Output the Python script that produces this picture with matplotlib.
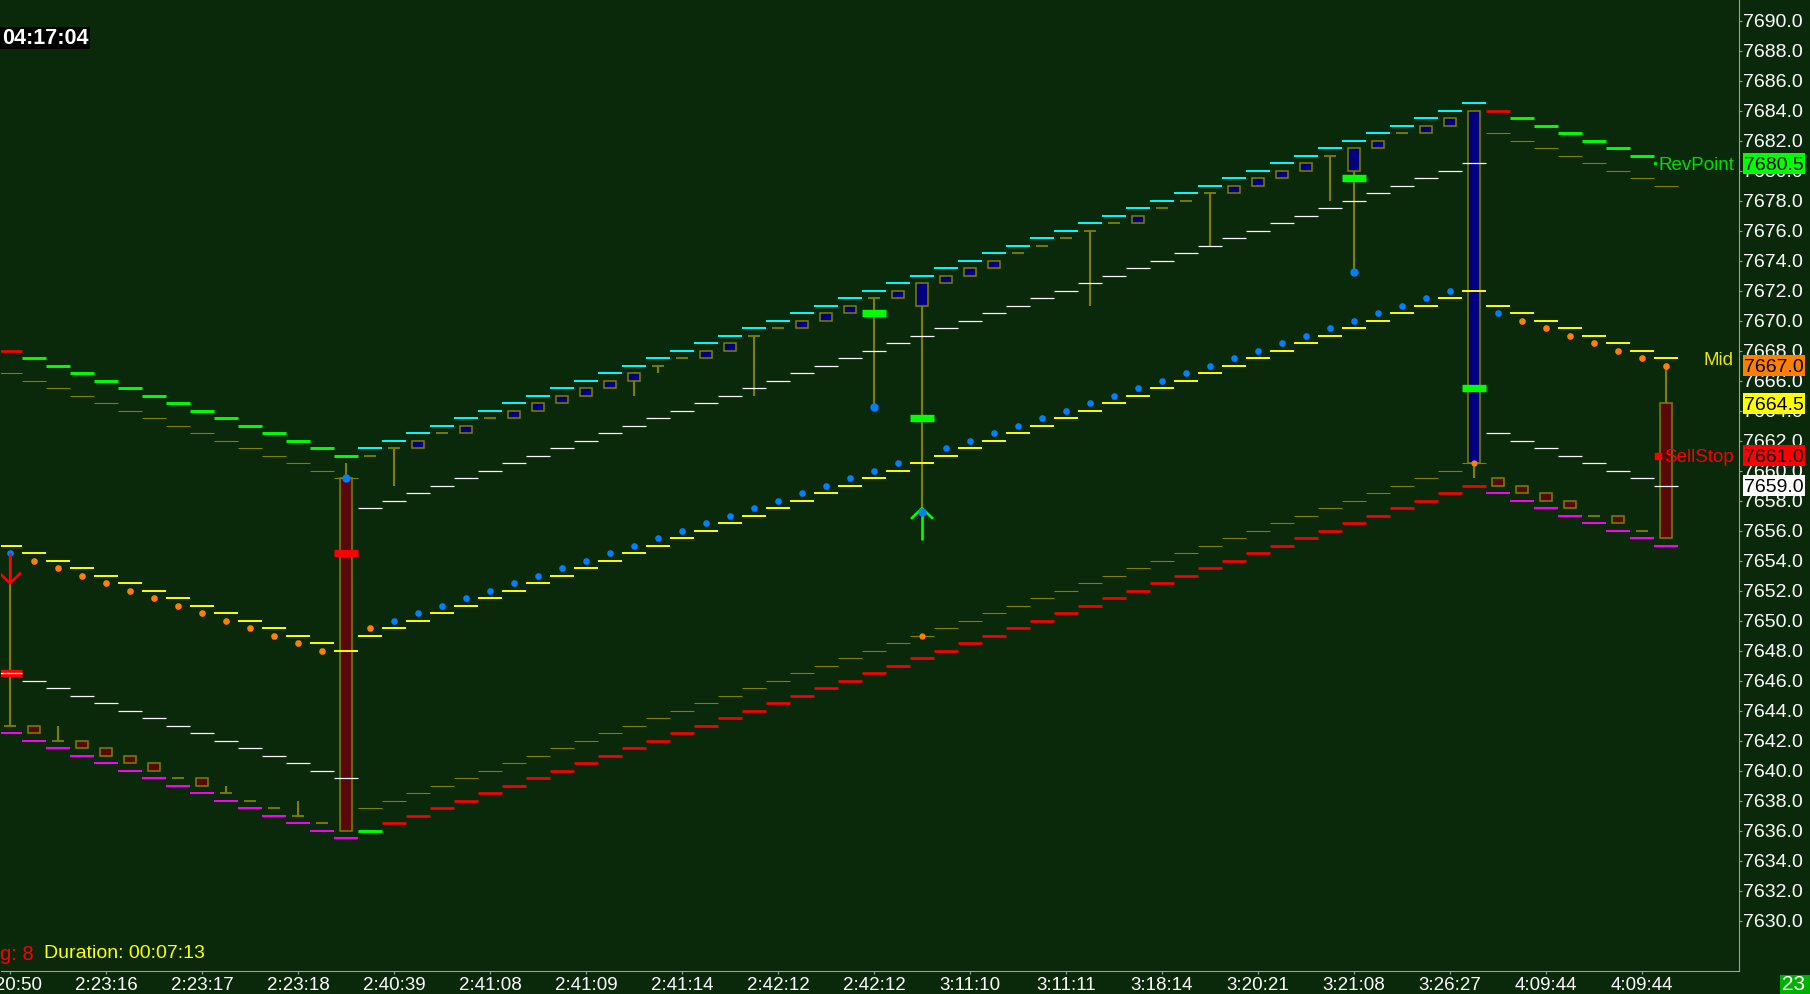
import numpy as np
import matplotlib
matplotlib.use('Agg')
import matplotlib.pyplot as plt
import matplotlib.transforms as mtransforms
from matplotlib.patches import Rectangle
from matplotlib.ticker import FormatStrFormatter

plt.rcParams['font.family'] = ['Liberation Sans', 'DejaVu Sans']

nan = np.nan

# channel bands, one value per renko column (0..69)
upper = [7668.0, 7667.5, 7667.0, 7666.5, 7666.0, 7665.5, 7665.0, 7664.5, 7664.0, 7663.5,
         7663.0, 7662.5, 7662.0, 7661.5, 7661.0, 7661.5, 7662.0, 7662.5, 7663.0, 7663.5,
         7664.0, 7664.5, 7665.0, 7665.5, 7666.0, 7666.5, 7667.0, 7667.5, 7668.0, 7668.5,
         7669.0, 7669.5, 7670.0, 7670.5, 7671.0, 7671.5, 7672.0, 7672.5, 7673.0, 7673.5,
         7674.0, 7674.5, 7675.0, 7675.5, 7676.0, 7676.5, 7677.0, 7677.5, 7678.0, 7678.5,
         7679.0, 7679.5, 7680.0, 7680.5, 7681.0, 7681.5, 7682.0, 7682.5, 7683.0, 7683.5,
         7684.0, 7684.5, 7684.0, 7683.5, 7683.0, 7682.5, 7682.0, 7681.5, 7681.0, nan]
upper_color = "R" + "G" * 14 + "C" * 47 + "R" + "G" * 6 + "."

lower = [7642.5, 7642.0, 7641.5, 7641.0, 7640.5, 7640.0, 7639.5, 7639.0, 7638.5, 7638.0,
         7637.5, 7637.0, 7636.5, 7636.0, 7635.5, 7636.0, 7636.5, 7637.0, 7637.5, 7638.0,
         7638.5, 7639.0, 7639.5, 7640.0, 7640.5, 7641.0, 7641.5, 7642.0, 7642.5, 7643.0,
         7643.5, 7644.0, 7644.5, 7645.0, 7645.5, 7646.0, 7646.5, 7647.0, 7647.5, 7648.0,
         7648.5, 7649.0, 7649.5, 7650.0, 7650.5, 7651.0, 7651.5, 7652.0, 7652.5, 7653.0,
         7653.5, 7654.0, 7654.5, 7655.0, 7655.5, 7656.0, 7656.5, 7657.0, 7657.5, 7658.0,
         7658.5, 7659.0, 7658.5, 7658.0, 7657.5, 7657.0, 7656.5, 7656.0, 7655.5, 7655.0]
lower_color = "M" * 15 + "G" + "R" * 46 + "M" * 8

olive_line = [7666.5, 7666.0, 7665.5, 7665.0, 7664.5, 7664.0, 7663.5, 7663.0, 7662.5, 7662.0,
              7661.5, 7661.0, 7660.5, 7660.0, 7659.5, 7637.5, 7638.0, 7638.5, 7639.0, 7639.5,
              7640.0, 7640.5, 7641.0, 7641.5, 7642.0, 7642.5, 7643.0, 7643.5, 7644.0, 7644.5,
              7645.0, 7645.5, 7646.0, 7646.5, 7647.0, 7647.5, 7648.0, 7648.5, 7649.0, 7649.5,
              7650.0, 7650.5, 7651.0, 7651.5, 7652.0, 7652.5, 7653.0, 7653.5, 7654.0, 7654.5,
              7655.0, 7655.5, 7656.0, 7656.5, 7657.0, 7657.5, 7658.0, 7658.5, 7659.0, 7659.5,
              7660.0, 7660.5, 7682.5, 7682.0, 7681.5, 7681.0, 7680.5, 7680.0, 7679.5, 7679.0]

white_line = [7646.5, 7646.0, 7645.5, 7645.0, 7644.5, 7644.0, 7643.5, 7643.0, 7642.5, 7642.0,
              7641.5, 7641.0, 7640.5, 7640.0, 7639.5, 7657.5, 7658.0, 7658.5, 7659.0, 7659.5,
              7660.0, 7660.5, 7661.0, 7661.5, 7662.0, 7662.5, 7663.0, 7663.5, 7664.0, 7664.5,
              7665.0, 7665.5, 7666.0, 7666.5, 7667.0, 7667.5, 7668.0, 7668.5, 7669.0, 7669.5,
              7670.0, 7670.5, 7671.0, 7671.5, 7672.0, 7672.5, 7673.0, 7673.5, 7674.0, 7674.5,
              7675.0, 7675.5, 7676.0, 7676.5, 7677.0, 7677.5, 7678.0, 7678.5, 7679.0, 7679.5,
              7680.0, 7680.5, 7662.5, 7662.0, 7661.5, 7661.0, 7660.5, 7660.0, 7659.5, 7659.0]

mid_line = [7655.0, 7654.5, 7654.0, 7653.5, 7653.0, 7652.5, 7652.0, 7651.5, 7651.0, 7650.5,
            7650.0, 7649.5, 7649.0, 7648.5, 7648.0, 7649.0, 7649.5, 7650.0, 7650.5, 7651.0,
            7651.5, 7652.0, 7652.5, 7653.0, 7653.5, 7654.0, 7654.5, 7655.0, 7655.5, 7656.0,
            7656.5, 7657.0, 7657.5, 7658.0, 7658.5, 7659.0, 7659.5, 7660.0, 7660.5, 7661.0,
            7661.5, 7662.0, 7662.5, 7663.0, 7663.5, 7664.0, 7664.5, 7665.0, 7665.5, 7666.0,
            7666.5, 7667.0, 7667.5, 7668.0, 7668.5, 7669.0, 7669.5, 7670.0, 7670.5, 7671.0,
            7671.5, 7672.0, 7671.0, 7670.5, 7670.0, 7669.5, 7669.0, 7668.5, 7668.0, 7667.5]

mid_dots = [7654.5, 7654.0, 7653.5, 7653.0, 7652.5, 7652.0, 7651.5, 7651.0, 7650.5, 7650.0,
            7649.5, 7649.0, 7648.5, 7648.0, nan, 7649.5, 7650.0, 7650.5, 7651.0, 7651.5,
            7652.0, 7652.5, 7653.0, 7653.5, 7654.0, 7654.5, 7655.0, 7655.5, 7656.0, 7656.5,
            7657.0, 7657.5, 7658.0, 7658.5, 7659.0, 7659.5, 7660.0, 7660.5, nan, 7661.5,
            7662.0, 7662.5, 7663.0, 7663.5, 7664.0, 7664.5, 7665.0, 7665.5, 7666.0, 7666.5,
            7667.0, 7667.5, 7668.0, 7668.5, 7669.0, 7669.5, 7670.0, 7670.5, 7671.0, 7671.5,
            7672.0, nan, 7670.5, 7670.0, 7669.5, 7669.0, 7668.5, 7668.0, 7667.5, 7667.0]
dot_color = "B" + "O" * 13 + "." + "O" + "B" * 45 + "." + "B" + "O" * 7

# renko bars
c_open = [7643.0, 7643.0, 7642.0, 7642.0, 7641.5, 7641.0, 7640.5, 7639.5, 7639.5, 7638.5,
          7638.0, 7637.5, 7637.0, 7636.5, 7659.5, 7661.0, 7661.5, 7661.5, 7662.5, 7662.5,
          7663.5, 7663.5, 7664.0, 7664.5, 7665.0, 7665.5, 7666.0, 7667.0, 7667.5, 7667.5,
          7668.0, 7669.0, 7669.5, 7669.5, 7670.0, 7670.5, 7671.5, 7671.5, 7671.0, 7672.5,
          7673.0, 7673.5, 7674.5, 7675.0, 7675.5, 7676.0, 7676.5, 7676.5, 7677.5, 7678.0,
          7678.5, 7678.5, 7679.0, 7679.5, 7680.0, 7681.0, 7680.0, 7681.5, 7682.5, 7682.5,
          7683.0, 7660.5, 7659.5, 7659.0, 7658.5, 7658.0, 7657.0, 7657.0, 7656.0, 7664.5]
c_close = [7643.0, 7642.5, 7642.0, 7641.5, 7641.0, 7640.5, 7640.0, 7639.5, 7639.0, 7638.5,
           7638.0, 7637.5, 7637.0, 7636.5, 7636.0, 7661.0, 7661.5, 7662.0, 7662.5, 7663.0,
           7663.5, 7664.0, 7664.5, 7665.0, 7665.5, 7666.0, 7666.5, 7667.0, 7667.5, 7668.0,
           7668.5, 7669.0, 7669.5, 7670.0, 7670.5, 7671.0, 7671.5, 7672.0, 7672.5, 7673.0,
           7673.5, 7674.0, 7674.5, 7675.0, 7675.5, 7676.0, 7676.5, 7677.0, 7677.5, 7678.0,
           7678.5, 7679.0, 7679.5, 7680.0, 7680.5, 7681.0, 7681.5, 7682.0, 7682.5, 7683.0,
           7683.5, 7684.0, 7659.0, 7658.5, 7658.0, 7657.5, 7657.0, 7656.5, 7656.0, 7655.5]
c_high = [7654.5, 7643.0, 7643.0, 7642.0, 7641.5, 7641.0, 7640.5, 7639.5, 7639.5, 7639.0,
          7638.0, 7637.5, 7638.0, 7636.5, 7660.5, 7661.0, 7661.5, 7662.0, 7662.5, 7663.0,
          7663.5, 7664.0, 7664.5, 7665.0, 7665.5, 7666.0, 7666.5, 7667.0, 7667.5, 7668.0,
          7668.5, 7669.0, 7669.5, 7670.0, 7670.5, 7671.0, 7671.5, 7672.0, 7672.5, 7673.0,
          7673.5, 7674.0, 7674.5, 7675.0, 7675.5, 7676.0, 7676.5, 7677.0, 7677.5, 7678.0,
          7678.5, 7679.0, 7679.5, 7680.0, 7680.5, 7681.0, 7681.5, 7682.0, 7682.5, 7683.0,
          7683.5, 7684.0, 7659.5, 7659.0, 7658.5, 7658.0, 7657.0, 7657.0, 7656.0, 7667.0]
c_low = [7643.0, 7642.5, 7642.0, 7641.5, 7641.0, 7640.5, 7640.0, 7639.5, 7639.0, 7638.5,
         7638.0, 7637.5, 7637.0, 7636.5, 7636.0, 7661.0, 7659.0, 7661.5, 7662.5, 7662.5,
         7663.5, 7663.5, 7664.0, 7664.5, 7665.0, 7665.5, 7665.0, 7666.5, 7667.5, 7667.5,
         7668.0, 7665.0, 7669.5, 7669.5, 7670.0, 7670.5, 7664.25, 7671.5, 7657.25, 7672.5,
         7673.0, 7673.5, 7674.5, 7675.0, 7675.5, 7671.0, 7676.5, 7676.5, 7677.5, 7678.0,
         7675.0, 7678.5, 7679.0, 7679.5, 7680.0, 7678.0, 7673.25, 7681.5, 7682.5, 7682.5,
         7683.0, 7659.5, 7659.0, 7658.5, 7658.0, 7657.5, 7657.0, 7656.5, 7656.0, 7655.5]

# trade marks
buy_cols = [36, 38, 56, 61]
buy_px = [7670.5, 7663.5, 7679.5, 7665.5]
sell_cols = [0, 14]
sell_px = [7646.5, 7654.5]
sig_cols = [14, 36, 38, 56]
sig_px = [7659.5, 7664.25, 7657.25, 7673.25]
osig_cols = [38, 61]
osig_px = [7649.0, 7660.5]
arrow_cols = [0, 38]
arrow_from = [7654.5, 7655.4]
arrow_to = [7652.5, 7657.5]
arrow_colors = ['#ff0000', '#00ff00']

tick_cols = list(range(0, 70, 4))
tick_labels = ['2:20:50', '2:23:16', '2:23:17', '2:23:18', '2:40:39', '2:41:08',
               '2:41:09', '2:41:14', '2:42:12', '2:42:12', '3:11:10', '3:11:11',
               '3:18:14', '3:20:21', '3:21:08', '3:26:27', '4:09:44', '4:09:44']

side_labels = ['RevPoint', 'Mid', 'SellStop']
side_px = [7680.5, 7667.5, 7661.0]
side_colors = ['#00e000', '#e8e800', '#ff0000']
box_px = [7680.5, 7667.0, 7664.5, 7661.0, 7659.0]
box_colors = ['#00ff00', '#ff8000', '#ffff00', '#ff0000', '#ffffff']

BG = '#0a280a'
OLIVE = '#808000'

upper = np.array(upper)
lower = np.array(lower)
cols = np.arange(len(upper))

fig = plt.figure(figsize=(18.1, 9.94), dpi=100, facecolor=BG)
ax = fig.add_axes([1 / 1810, 23 / 994, 1738 / 1810, 971 / 994], facecolor=BG)
ax.set_xlim(-0.375, 72.04)
ax.set_ylim(7626.65, 7691.38)

# bands
band_style = {'R': ('#ff0000', 1.9), 'G': ('#00ff00', 2.1),
              'C': ('#00ffff', 1.4), 'M': ('#ff00ff', 1.4)}
for vals, codes in [(upper, upper_color), (lower, lower_color)]:
    for code, (c, lw) in band_style.items():
        idx = np.array([i for i, ch in enumerate(codes) if ch == code], dtype=int)
        if len(idx):
            ax.hlines(vals[idx], idx - 0.5, idx + 0.5, colors=c, lw=lw,
                      capstyle='butt', zorder=6)

ax.hlines(olive_line, cols - 0.5, cols + 0.5, colors=OLIVE, lw=0.8, capstyle='butt', zorder=4)
ax.hlines(white_line, cols - 0.5, cols + 0.5, colors='white', lw=0.9, capstyle='butt', zorder=6)
ax.hlines(mid_line, cols - 0.5, cols + 0.5, colors='#ffff00', lw=1.4, capstyle='butt', zorder=6)

# candles
for i in cols:
    o, c, h, l = c_open[i], c_close[i], c_high[i], c_low[i]
    if h > l:
        ax.vlines(i, l, h, colors=OLIVE, lw=1.5, zorder=2)
    if o == c:
        ax.hlines(o, i - 0.25, i + 0.25, colors=OLIVE, lw=1.3, capstyle='butt', zorder=3)
    else:
        fc = '#000080' if c > o else '#580808'
        ax.add_patch(Rectangle((i - 0.24, min(o, c)), 0.48, abs(c - o),
                               facecolor=fc, edgecolor=OLIVE, lw=1.1, zorder=3))

# entry marks
bc = np.array(buy_cols)
ax.hlines(buy_px, bc - 0.5, bc + 0.5, colors='#00ff00', lw=5.3, capstyle='butt', zorder=5)
sc = np.array(sell_cols)
ax.hlines(sell_px, sc - 0.5, sc + 0.5, colors='#ff0000', lw=5.3, capstyle='butt', zorder=5)

# dots
for code, c in [('B', '#0080ff'), ('O', '#ff8000')]:
    idx = [i for i, ch in enumerate(dot_color) if ch == code]
    ax.plot(idx, [mid_dots[i] for i in idx], 'o', color=c, ms=4.8, mec='none', zorder=7)
ax.plot(sig_cols, sig_px, 'o', color='#0080ff', ms=6, mec='none', zorder=8)
ax.plot(osig_cols, osig_px, 'o', color='#ff8000', ms=4.5, mec='none', zorder=8)

# arrows
for x, a, b, c in zip(arrow_cols, arrow_from, arrow_to, arrow_colors):
    back = -0.65 if b > a else 0.65
    ax.plot([x, x], [a, b], color=c, lw=1.9, zorder=7, solid_capstyle='butt')
    ax.plot([x - 0.42, x, x + 0.42], [b + back, b, b + back], color=c, lw=1.9, zorder=7)

# axes styling
for s in ['left', 'top']:
    ax.spines[s].set_visible(False)
for s in ['right', 'bottom']:
    ax.spines[s].set_color('#a0a0a0')
    ax.spines[s].set_linewidth(0.8)
ax.yaxis.tick_right()
ax.set_yticks(np.arange(7630, 7691, 2))
ax.yaxis.set_major_formatter(FormatStrFormatter('%.1f'))
ax.set_xticks(tick_cols)
ax.set_xticklabels(tick_labels)
ax.tick_params(axis='y', colors='#a0a0a0', labelcolor='white', labelsize=14, length=2.2, pad=1)
ax.tick_params(axis='x', colors='#a0a0a0', labelcolor='white', labelsize=13.5, length=2.2, pad=2)

trans = mtransforms.blended_transform_factory(ax.transAxes, ax.transData)

# labels left of the price scale
ax.plot(68.54, side_px[0], 's', color=side_colors[0], ms=1.6, zorder=9)
ax.plot(68.65, side_px[2], 's', color=side_colors[2], ms=5, zorder=9)
for t, v, c in zip(side_labels, side_px, side_colors):
    ax.text(0.9971, v, t, transform=trans, ha='right', va='center_baseline',
            color=c, fontsize=13.5, zorder=9)

# price boxes on the scale
for v, c in zip(box_px, box_colors):
    ax.add_patch(Rectangle((1.0023, v - 0.69), 0.0357, 1.38, transform=trans,
                           facecolor=c, edgecolor='none', clip_on=False, zorder=10))
    ax.text(1.0029, v, '%.1f' % v, transform=trans, ha='left', va='center_baseline',
            color='black', fontsize=14, clip_on=False, zorder=11)

# clock / status texts
fig.add_artist(Rectangle((0, 1 - 49 / 994), 90 / 1810, 22 / 994, transform=fig.transFigure,
                         facecolor='black', edgecolor='none', zorder=10))
fig.text(2 / 1810, 1 - 38 / 994, '04:17:04', ha='left', va='center', color='white',
         fontsize=15.5, fontweight='bold', zorder=11)
fig.text(0, 1 - 954 / 994, 'g: 8', ha='left', va='center', color='#ff0000', fontsize=14.5, zorder=11)
fig.text(44 / 1810, 1 - 954 / 994, 'Duration: 00:07:13', ha='left', va='center',
         color='#ffff00', fontsize=14, zorder=11)
fig.add_artist(Rectangle((1780 / 1810, 0), 30 / 1810, 19 / 994, transform=fig.transFigure,
                         facecolor='#00b000', edgecolor='none', zorder=10))
fig.text(1782 / 1810, 1 - 985 / 994, '23', ha='left', va='center', color='white',
         fontsize=15, zorder=11)

fig.savefig('out.png', dpi=100, facecolor=BG)
